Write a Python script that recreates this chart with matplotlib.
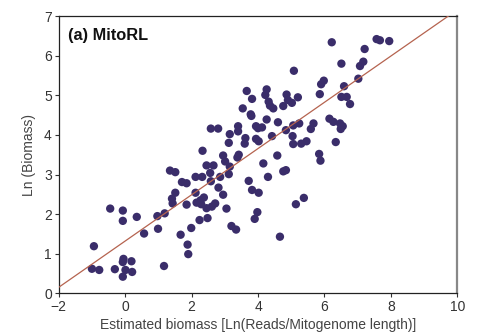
import matplotlib
matplotlib.use("Agg")
import matplotlib.pyplot as plt
import numpy as np

plt.rcParams['font.family'] = ['Liberation Sans', 'DejaVu Sans']

est_biomass = [6.22, 7.57, 7.67, 7.95, 7.21, 6.51, 7.17, 7.07, 5.08, 5.98, 5.90, 7.02, 6.59,
               3.66, 4.26, 4.22, 4.86, 5.20, 5.86, 3.82, 4.32, 4.36, 4.46, 4.76, 4.90, 5.02,
               6.51, 6.67, 6.77, 3.54, 3.78, 3.80, 4.26, 4.60, 6.15, 6.27, 6.47, 6.55, 6.49,
               5.67, 5.59, 5.24, 5.06, 2.58, 2.80, 3.40, 3.40, 3.94, 4.00, 4.12, 3.15, 3.12,
               3.62, 3.60, 3.94, 4.02, 4.42, 4.84, 5.04, 5.06, 5.30, 5.46, 6.34, 2.33, 2.95,
               3.42, 3.38, 4.58, 5.84, 5.88, 3.01, 3.15, 4.16, 2.45, 2.66, 1.35, 1.51, 3.12,
               2.86, 2.12, 2.32, 2.56, 4.30, 4.84, 4.76, 2.58, 1.71, 1.85, 3.72, 2.81, 1.51,
               2.12, 2.95, 3.82, 4.02, 1.41, 1.43, 1.85, 2.15, 2.27, 2.37, 2.29, 2.45, 2.61,
               2.71, 3.05, 5.14, 5.38, -0.45, -0.07, 0.35, -0.07, 0.97, 1.19, 2.24, 2.48,
               3.98, 3.90, 0.57, 0.99, 1.99, 1.67, 3.20, 3.34, 4.66, 1.88, 1.90, -0.94,
               -1.00, -0.78, -0.31, -0.05, -0.07, 0.19, 0.01, 0.21, -0.07, 1.17]
ln_biomass = [6.34, 6.42, 6.39, 6.37, 6.17, 5.80, 5.85, 5.74, 5.62, 5.37, 5.28, 5.42, 5.23,
              5.11, 5.15, 5.01, 5.02, 4.95, 5.03, 4.91, 4.84, 4.74, 4.67, 4.73, 4.88, 4.81,
              4.96, 4.96, 4.78, 4.67, 4.52, 4.48, 4.39, 4.32, 4.41, 4.33, 4.29, 4.22, 4.15,
              4.29, 4.15, 4.29, 4.24, 4.16, 4.16, 4.22, 4.09, 4.22, 4.17, 4.19, 4.02, 3.80,
              3.92, 3.78, 3.90, 3.84, 3.97, 4.12, 3.97, 3.77, 3.78, 3.84, 3.82, 3.60, 3.48,
              3.50, 3.43, 3.48, 3.52, 3.35, 3.33, 3.20, 3.28, 3.23, 3.23, 3.10, 3.06, 3.01,
              2.94, 2.94, 2.94, 3.04, 2.94, 3.11, 3.08, 2.83, 2.81, 2.78, 2.84, 2.67, 2.54,
              2.54, 2.49, 2.61, 2.54, 2.39, 2.27, 2.24, 2.29, 2.35, 2.42, 2.25, 2.15, 2.19,
              2.27, 2.14, 2.25, 2.41, 2.14, 2.09, 1.93, 1.83, 1.95, 2.02, 1.85, 1.90,
              2.05, 1.88, 1.51, 1.63, 1.65, 1.48, 1.70, 1.61, 1.43, 1.23, 0.99, 1.19,
              0.62, 0.59, 0.61, 0.87, 0.79, 0.81, 0.59, 0.54, 0.42, 0.69]

fit_x = [-2, 10]
fit_slope = 0.584
fit_intercept = 1.32

x_ticks = [-2, 0, 2, 4, 6, 8, 10]
y_ticks = [0, 1, 2, 3, 4, 5, 6, 7]

fig = plt.figure(figsize=(4.82, 3.36), dpi=100)
ax = fig.add_axes([0.1218, 0.127, 0.827, 0.825])

ax.scatter(est_biomass, ln_biomass, s=36, color='#3a2d6a', edgecolors='none', zorder=2)
fx = np.array(fit_x, dtype=float)
ax.plot(fx, fit_slope * fx + fit_intercept, color='#b5634f', lw=0.9, zorder=3)

ax.set_xlim(-2, 10)
ax.set_ylim(0, 7)
ax.set_xticks(x_ticks)
ax.set_yticks(y_ticks)
ax.set_xticklabels([('\u2212' + str(-t)) if t < 0 else str(t) for t in x_ticks])

for s in ['left', 'bottom', 'top']:
    ax.spines[s].set_color('#222222')
    ax.spines[s].set_linewidth(0.9)
ax.spines['right'].set_color('#888888')
ax.spines['right'].set_linewidth(1.6)

ax.tick_params(axis='both', direction='out', length=3, width=0.8, labelsize=10,
               colors='#333333', pad=2)
ax.tick_params(top=False, right=False)

ax.set_xlabel('Estimated biomass [Ln(Reads/Mitogenome length)]', fontsize=10,
              color='#444444', labelpad=3)
ax.set_ylabel('Ln (Biomass)', fontsize=10, color='#444444', labelpad=6)

ax.text(0.024, 0.93, '(a) MitoRL', transform=ax.transAxes, fontsize=11.8,
        fontweight='bold', color='#111111', ha='left', va='center')

fig.savefig('out.png', dpi=100)
